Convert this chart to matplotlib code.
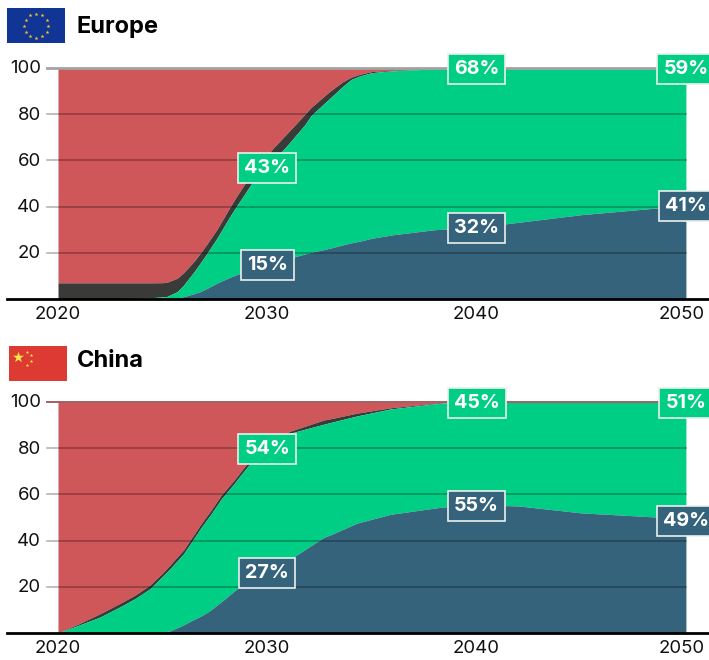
import matplotlib
matplotlib.use("Agg")
import matplotlib.pyplot as plt
from matplotlib.patches import Rectangle

plt.rcParams['font.family'] = ['Inter', 'DejaVu Sans']

red = "#CF5659"
dark = "#3A3A38"
green = "#00CE84"
blue = "#35637C"

# Europe: year, then upper edge of each stacked band
euYears = [2020, 2023, 2024, 2024.5, 2025, 2025.2, 2025.7, 2026, 2026.5, 2026.8, 2027.1, 2027.6, 2028.2, 2028.5, 2029.25, 2030, 2030.3,
           2031, 2031.8, 2032.1, 2033, 2033.6, 2034, 2034.4, 2035, 2036, 2038, 2040, 2045, 2050]
euBlue = [0, 0, 0, 0, 0.1, 0.2, 0.5, 1, 2.3, 3.2, 4.5, 6.9, 9.3, 10.4, 13, 15, 15.8, 17.5, 19.5, 20.2, 22, 23.4, 24.3, 25, 26.3, 27.8, 30, 31, 36.5, 40.5]
euGreen = [0, 0.2, 0.4, 0.6, 0.9, 1.1, 3.2, 6, 11.8, 15.6, 19.5, 26.4, 35.5, 39.8, 50, 57.2, 60, 67, 75.5, 79.5, 87, 92, 95, 96.5, 98, 98.8, 99.6, 100, 100, 100]
euDark = [7, 7, 7, 7, 7.05, 7.2, 9, 11.4, 16.3, 19.8, 23.6, 30.2, 39.5, 44, 54.3, 62.3, 65.5, 72.2, 80, 83, 90, 94, 96, 97.2, 98.5, 99, 99.7, 100, 100, 100]

# China
cnYears = [2020, 2021, 2022, 2023, 2023.7, 2024.4, 2025, 2025.35, 2026, 2026.3, 2026.8, 2027.1, 2027.3, 2027.8, 2028.4, 2028.7, 2029, 2029.5, 2030, 2030.5, 2031.1,
           2032.7, 2033.1, 2034.3, 2035.9, 2038.1, 2038.6, 2039, 2040, 2042, 2045, 2050]
cnBlue = [0, 0, 0, 0.1, 0.1, 0.2, 0.5, 0.9, 3.5, 5, 7.2, 8.8, 10, 13.5, 18, 20.2, 22, 24.5, 27, 29, 32, 41.4, 42.8, 47.6, 51.4, 54.2, 54.7, 55, 55.5, 55, 52, 49.5]
cnGreen = [0, 3.4, 6.9, 11.5, 15, 19.2, 24.6, 27.8, 34.3, 38.3, 45.1, 48.9, 51.3, 58, 64.5, 68, 71.4, 76.6, 80.7, 83.7, 86.5, 90.4, 91.3, 94, 97, 99.3, 99.6, 100, 100, 100, 100, 100]
cnDark = [0, 4, 8.3, 13, 16.5, 20.8, 26, 29.4, 36, 40, 46.8, 50.6, 53, 59.7, 66, 69.5, 73, 78, 82, 84.8, 87.4, 92.2, 92.9, 95.2, 97.5, 99.5, 99.7, 100, 100, 100, 100, 100]

yTicks = [20, 40, 60, 80, 100]
xTicks = [2020, 2030, 2040, 2050]
euLabels = [(2030, 57.1, "43%", green), (2030, 15, "15%", blue), (2040, 100, "68%", green), (2040, 31, "32%", blue),
            (2050, 100, "59%", green), (2050, 40.7, "41%", blue)]
cnLabels = [(2030, 80, "54%", green), (2030, 26.4, "27%", blue), (2040, 100, "45%", green), (2040, 55.4, "55%", blue),
            (2050, 100, "51%", green), (2050, 48.9, "49%", blue)]

W, H = 709, 660
fig = plt.figure(figsize=(W/100, H/100), dpi=100)
pxPerYear = 20.93

def axesAt(x0, yTop, x1, yBottom, **kw):
    return fig.add_axes([x0/W, 1-yBottom/H, (x1-x0)/W, (yBottom-yTop)/H], **kw)

# draw one stacked area panel
def drawPanel(y100, y0, years, b, g, d, labels, topCol, topWidth):
    ax = axesAt(7, y100, 709, y0)
    ax.set_xlim(2020-(58-7)/pxPerYear, 2020+(709-58)/pxPerYear)
    ax.set_ylim(0, 100)
    ax.fill_between(years, d, 100, color=red, lw=0)
    ax.fill_between(years, g, d, color=dark, lw=0)
    ax.fill_between(years, b, g, color=green, lw=0)
    ax.fill_between(years, 0, b, color=blue, lw=0)
    gridL = 2020-(58-47)/pxPerYear
    for t in yTicks[:-1]:
        ax.plot([gridL, 2050], [t, t], color="#000000", alpha=0.32, lw=1.1, zorder=3)
    ax.plot([gridL, 2050], [100, 100], color=topCol, lw=topWidth, zorder=3, clip_on=False)
    for s in ['top', 'left', 'right']:
        ax.spines[s].set_visible(False)
    ax.spines['bottom'].set_linewidth(2)
    ax.spines['bottom'].set_color("black")
    ax.set_yticks(yTicks)
    ax.set_xticks(xTicks)
    ax.tick_params(length=0)
    ax.patch.set_alpha(0)
    ax.set_xticklabels([])
    ax.set_yticklabels([])
    for t in yTicks:
        ax.annotate(str(t), (2020-(58-41)/pxPerYear, t), xytext=(0, -0.7), textcoords='offset points', ha='right', va='center',
                    fontsize=13.4, color="#111111", annotation_clip=False)
    for t, off in zip(xTicks, [0, 0, 0, -4/pxPerYear]):
        ax.annotate(str(t), (t+off, 0), xytext=(0, -11), textcoords='offset points',
                    ha='center', va='center', fontsize=13.4, color="#111111", annotation_clip=False)
    for x, y, txt, col in labels:
        ax.annotate(txt, (x, y), xytext=(0, -0.6), textcoords='offset points', ha='center', va='center', fontsize=14.2,
                    fontweight='bold', color="white", zorder=5, annotation_clip=False,
                    bbox=dict(boxstyle="square,pad=0.31", fc=col, ec="#E8F0EE", lw=1.2))
    return ax

drawPanel(68, 299, euYears, euBlue, euGreen, euDark, euLabels, "#A3A3A3", 2.0)
drawPanel(402, 633, cnYears, cnBlue, cnGreen, cnDark, cnLabels, "#A06062", 1.4)

# flags
euFlag = axesAt(7, 8, 65, 43)
euFlag.set_xlim(0, 58)
euFlag.set_ylim(35, 0)
euFlag.axis('off')
euFlag.add_patch(Rectangle((0, 0), 58, 35, color="#103594", lw=0))
starX = [29, 35, 39.5, 41, 39.5, 35, 29, 23, 18.5, 17, 18.5, 23]
starY = [5.5, 7, 11.5, 17.5, 23.5, 28, 29.5, 28, 23.5, 17.5, 11.5, 7]
euFlag.scatter(starX, starY, marker='*', s=9, color="#F2C530", lw=0)

cnFlag = axesAt(9, 346, 67, 381)
cnFlag.set_xlim(0, 58)
cnFlag.set_ylim(35, 0)
cnFlag.axis('off')
cnFlag.add_patch(Rectangle((0, 0), 58, 35, color="#DC3A32", lw=0))
cnFlag.scatter([8.5], [11], marker='*', s=70, color="#F8E54A", lw=0)
cnFlag.scatter([18, 21.5, 21.5, 18], [5.5, 9, 15, 19], marker='*', s=7, color="#F8E54A", lw=0)

fig.text(77/W, 1-27/H, "Europe", fontsize=17, fontweight='bold', ha='left', va='center', color="black")
fig.text(77/W, 1-361/H, "China", fontsize=17, fontweight='bold', ha='left', va='center', color="black")

fig.savefig("out.png", dpi=100)
